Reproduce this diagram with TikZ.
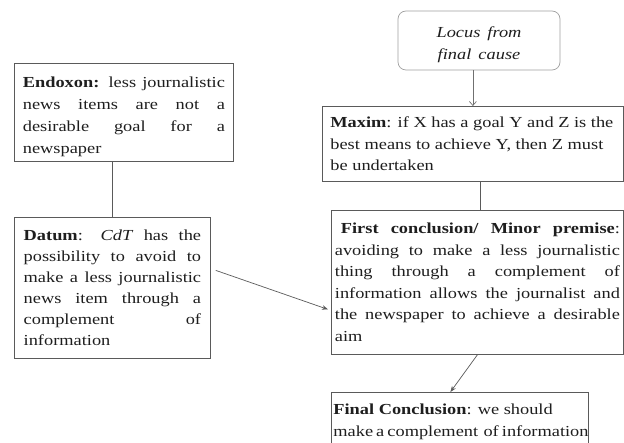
\documentclass[tikz,border=0pt]{standalone}
\usepackage{fontspec}
\setmainfont{Liberation Serif}[FakeStretch=1.2]
\usetikzlibrary{arrows.meta}
\definecolor{txt}{HTML}{1E1E1E}
\definecolor{bord}{HTML}{5A5A5A}
\definecolor{lbord}{HTML}{A0A0A0}
\newcommand{\ns}{\spaceskip=0pt\xspaceskip=0pt\relax}
\newcommand{\jline}[1]{\makebox[\hsize][s]{\ns #1}}
\begin{document}
\begin{tikzpicture}[x=1pt,y=-1pt,
  box/.style={draw=bord, line width=0.8pt, anchor=north west, inner ysep=0pt, align=left, text=txt},
  conn/.style={draw=bord, line width=0.7pt},
  tip/.style={-{Stealth[length=6pt,width=4.5pt]}}
]
\path[use as bounding box, clip] (0,0) rectangle (624,443);
\fill[white] (0,0) rectangle (624,443);

\node[box, inner xsep=8.5pt, text width=202pt, minimum height=98pt, font=\fontsize{15.3}{21.7}\selectfont] (endoxon) at (14,63)
 {\ns\jline{\rule{0pt}{19.5pt}\textbf{Endoxon:} less journalistic}\\ \jline{news items are not a}\\ \jline{desirable goal for a}\\ newspaper};

\node[box, inner xsep=9.3pt, text width=177.4pt, minimum height=141pt, font=\fontsize{15.3}{21}\selectfont] (datum) at (14,217)
 {\ns\jline{\textbf{Datum}: \textit{CdT} has the}\\ \jline{possibility to avoid to}\\ \jline{make a less journalistic}\\ \jline{news item through a}\\ \jline{complement of}\\ information};

\node[draw=lbord, line width=0.7pt, rounded corners=8pt, text width=150pt, inner xsep=6pt, minimum height=59pt, inner ysep=0pt, align=center, text=txt, font=\fontsize{15.3}{21.7}\selectfont\itshape] (locus) at (479,40.5)
 {\ns\rule{0pt}{19.5pt}Locus from\\final cause};

\node[box, inner xsep=8pt, text width=285pt, minimum height=75pt, font=\fontsize{15.3}{21.7}\selectfont] (maxim) at (322,106)
 {\ns\textbf{Maxim}: if X has a goal Y and Z is the\\ best means to achieve Y, then Z must\\ be undertaken};

\node[box, inner xsep=3.5pt, text width=285pt, minimum height=144pt, font=\fontsize{15.3}{21.5}\selectfont] (first) at (331,210)
 {\ns\jline{\hspace*{6pt}\textbf{First conclusion/ Minor premise}:}\\ \jline{avoiding to make a less journalistic}\\ \jline{thing through a complement of}\\ \jline{information allows the journalist and}\\ \jline{the newspaper to achieve a desirable}\\ aim};

\node[box, inner xsep=2pt, text width=253pt, minimum height=58pt, font=\fontsize{15.3}{22}\selectfont] (final) at (331,392)
 {\ns\textbf{Final Conclusion}: we should\\ \makebox[250pt][s]{\ns make a complement\hspace{0.15em} of information}};

\draw[conn, draw=lbord!70!black, -{Straight Barb[length=4pt,width=7pt]}] (locus.south -| maxim.north) -- (maxim.north);
\draw[conn] (endoxon.south -| datum.north) -- (datum.north);
\draw[conn] ([xshift=3pt]maxim.south -| first.north) -- ([xshift=3pt]first.north);
\draw[conn, tip] ([shift={(5pt,17.5pt)}]datum.east) -- ([shift={(-3pt,-27pt)}]first.west);
\draw[conn, tip] (first.south) -- ([xshift=-9.5pt]final.north);
\end{tikzpicture}
\end{document}
